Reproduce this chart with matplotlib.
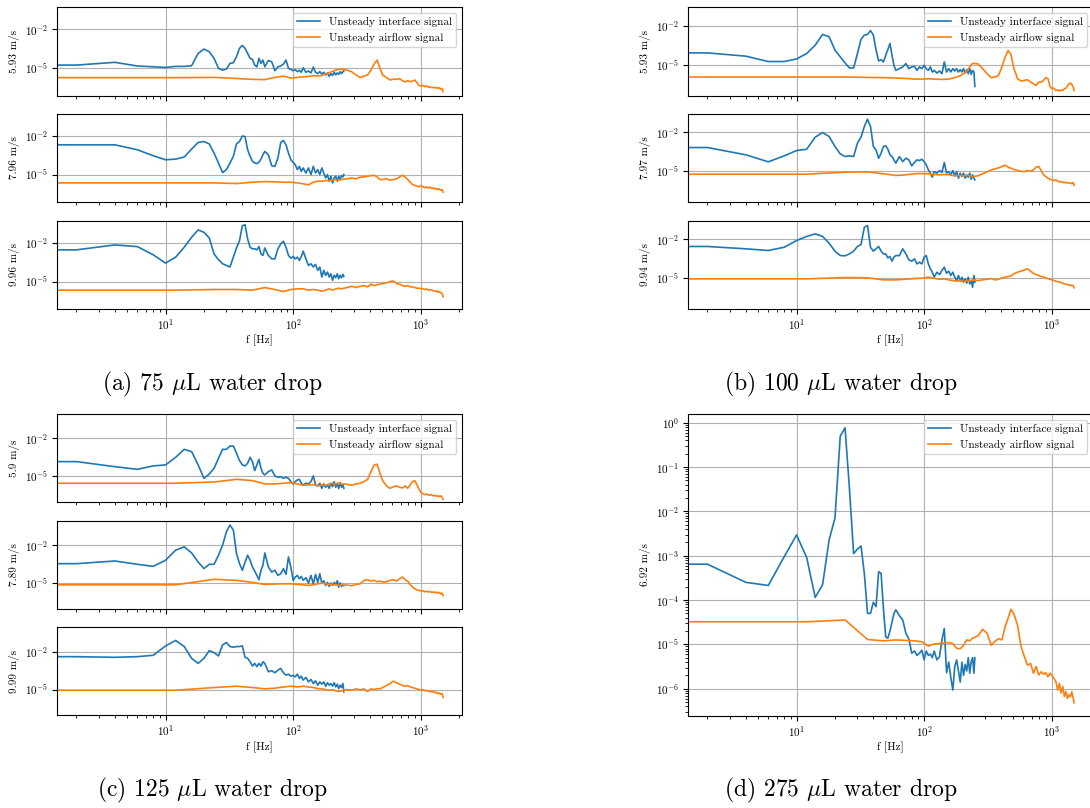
import numpy as np
import matplotlib
matplotlib.use("Agg")
import matplotlib.pyplot as plt
from matplotlib.ticker import NullFormatter

plt.rcParams["font.family"] = "cmr10"
plt.rcParams["mathtext.fontset"] = "cm"
plt.rcParams["axes.formatter.use_mathtext"] = True
plt.rcParams["axes.unicode_minus"] = False

# frequency grids [Hz]
freq_interface = [0, 2, 4, 6, 8, 10, 12, 14, 16, 18, 20, 22, 24, 26, 28, 30, 32, 34, 36, 38, 40,
                  42, 44, 46, 48, 50, 52, 54, 56, 58, 60,
                  64, 68, 72, 76, 80, 84, 88, 92, 96, 100, 104, 108, 112, 116, 120,
                  126, 132, 138, 144, 150, 156, 162, 168, 174, 180, 186, 192, 198, 204, 210,
                  216, 222, 228, 234, 240, 246, 250]
freq_airflow = [0, 12, 24, 36, 48, 60, 72, 84, 96, 108, 120, 132, 144, 156, 168, 180, 192, 204, 216, 228, 240,
                264, 288, 312, 336, 360, 384, 408, 432, 456, 480,
                504, 540, 576, 612, 648, 684, 720, 756, 792, 828, 864, 900, 936, 972, 1008, 1044,
                1080, 1116, 1152, 1188, 1224, 1260, 1296, 1332, 1368, 1404, 1440, 1476, 1500]

# log10 of the spectra
a1_interface = [-4.75, -4.75, -4.54, -4.82, -4.88, -4.93, -4.85, -4.85, -4.8, -3.86, -3.53, -3.73, -4.24, -5.0, -5.13, -5.05,
                -4.62, -4.57, -4.11, -3.47, -3.25, -3.47, -3.86, -4.24, -4.32, -4.75, -4.88, -4.24, -4.62, -4.37, -4.88,
                -4.4, -4.5, -5.18, -4.88, -4.82, -4.67, -4.37, -5.0, -5.08, -5.18, -5.1, -5.25, -5.15, -5.3, -4.95,
                -5.3, -5.2, -5.35, -4.9, -5.3, -5.4, -5.25, -5.45, -5.3, -5.5, -5.35, -5.6, -5.4, -5.55, -5.3,
                -5.5, -5.35, -5.45, -5.25, -5.4, -5.25, -5.2]
a1_airflow = [-5.71, -5.71, -5.69, -5.77, -5.84, -5.86, -5.69, -5.59, -5.74, -5.69, -5.64, -5.62, -5.56, -5.59, -5.54, -5.43,
              -5.33, -5.23, -5.13, -5.08, -5.05,
              -5.13, -5.26, -5.51, -5.71, -5.59, -5.51, -5.13, -4.67, -4.37, -5.0,
              -5.51, -5.71, -5.89, -5.82, -5.84, -5.79, -5.94, -6.04, -5.94, -6.02, -5.97, -5.89, -6.1, -6.3, -6.35,
              -6.3, -6.4, -6.35, -6.45, -6.4, -6.48, -6.45, -6.5, -6.45, -6.53, -6.48, -6.6, -6.55, -6.78]

a2_interface = [-2.71, -2.71, -2.71, -3.09, -3.55, -3.86, -3.81, -3.65, -3.04, -2.53, -2.46, -2.64, -3.35, -4.11, -4.85, -4.62,
                -4.11, -3.6, -2.64, -2.46, -2.03, -2.08, -3.09, -3.6, -3.98, -4.11, -4.16, -4.04, -3.81, -3.48, -3.22,
                -3.48, -4.32, -4.37, -3.73, -2.53, -2.38, -2.71, -3.35, -3.86, -4.06, -4.24, -4.62, -4.37, -4.75, -4.49,
                -4.88, -4.49, -5.0, -4.37, -4.88, -4.62, -5.0, -4.49, -4.88, -5.26, -5.0, -5.51, -5.13, -5.64, -5.26,
                -5.13, -5.51, -5.13, -5.38, -5.08, -5.18, -5.0]
a2_airflow = [-5.64, -5.64, -5.64, -5.69, -5.59, -5.54, -5.56, -5.59, -5.59, -5.64, -5.71, -5.79, -5.59, -5.51, -5.51, -5.46,
              -5.49, -5.41, -5.38, -5.43, -5.38,
              -5.33, -5.26, -5.33, -5.2, -5.18, -5.13, -5.08, -5.05, -5.18, -5.38,
              -5.38, -5.33, -5.43, -5.38, -5.33, -5.18, -5.05, -5.18, -5.38, -5.59, -5.77, -5.84, -5.89, -5.94, -5.84,
              -5.94, -6.02, -5.94, -6.04, -5.97, -6.07, -6.02, -6.12, -6.07, -6.15, -6.1, -6.2, -6.15, -6.35]

a3_interface = [-2.56, -2.56, -2.18, -2.31, -2.94, -3.58, -3.12, -2.36, -1.59, -1.03, -1.21, -1.64, -2.87, -3.32, -3.63, -3.76,
                -3.88, -3.12, -2.41, -1.85, -0.7, -0.63, -1.72, -2.36, -2.48, -2.48, -2.56, -2.31, -2.87, -2.99, -2.41,
                -2.99, -3.25, -3.25, -2.48, -2.1, -1.9, -2.36, -2.99, -3.2, -3.07, -3.25, -3.12, -3.37, -3.07, -2.66,
                -3.25, -3.76, -3.63, -3.88, -3.68, -4.14, -3.88, -4.65, -4.14, -4.52, -4.27, -4.65, -4.4, -4.9, -4.52,
                -4.7, -4.4, -4.78, -4.52, -4.7, -4.45, -4.6]
a3_airflow = [-5.66, -5.66, -5.61, -5.61, -5.66, -5.46, -5.61, -5.77, -5.61, -5.56, -5.56, -5.66, -5.61, -5.66, -5.74, -5.66,
              -5.56, -5.66, -5.56, -5.51, -5.56,
              -5.46, -5.36, -5.46, -5.36, -5.31, -5.41, -5.2, -5.31, -5.25, -5.2,
              -5.15, -5.1, -5.0, -4.95, -5.15, -5.2, -5.31, -5.36, -5.31, -5.41, -5.41, -5.46, -5.51, -5.51, -5.53,
              -5.56, -5.61, -5.56, -5.66, -5.61, -5.66, -5.71, -5.77, -5.71, -5.82, -5.77, -5.87, -5.92, -6.17]

b1_interface = [-4.08, -4.08, -4.33, -4.74, -4.74, -4.54, -4.13, -3.49, -2.67, -2.85, -3.87, -4.38, -4.85, -5.23, -5.23, -4.13,
                -3.05, -2.72, -2.67, -2.38, -2.72, -3.87, -4.69, -4.59, -4.77, -4.26, -3.82, -3.36, -4.26, -5.03, -5.41,
                -5.28, -5.15, -4.9, -5.28, -5.15, -5.1, -5.41, -5.15, -5.28, -5.03, -5.28, -5.41, -5.15, -5.54, -5.41,
                -5.62, -5.46, -5.67, -4.77, -5.54, -5.28, -5.54, -5.28, -5.46, -5.28, -5.54, -5.36, -5.54, -5.28, -5.62,
                -5.36, -5.67, -5.28, -5.72, -5.41, -5.54, -6.64]
b1_airflow = [-5.92, -5.92, -5.92, -5.95, -5.97, -6.0, -6.03, -6.08, -6.08, -6.05, -6.08, -6.1, -6.1, -6.08, -6.0, -5.92,
              -5.82, -5.67, -5.46, -5.15, -4.88,
              -4.92, -5.28, -5.67, -5.97, -5.92, -5.79, -5.15, -4.4, -3.9, -4.2,
              -5.2, -6.05, -6.23, -6.18, -6.13, -6.31, -6.44, -6.56, -6.31, -6.31, -6.18, -5.97, -6.05, -6.64, -6.82,
              -6.77, -6.95, -6.9, -7.0, -6.9, -6.95, -6.82, -6.77, -6.59, -6.44, -6.38, -6.49, -6.69, -6.95]

b2_interface = [-3.18, -3.18, -3.74, -4.28, -3.82, -3.41, -3.31, -2.38, -2.03, -2.33, -3.1, -3.67, -3.87, -3.82, -3.87, -2.85,
                -2.38, -1.56, -1.0, -1.56, -3.1, -3.36, -4.0, -3.62, -3.1, -3.05, -3.31, -3.74, -3.87, -4.13, -4.38,
                -3.87, -4.26, -4.0, -4.13, -4.59, -4.33, -4.13, -4.18, -4.08, -4.26, -4.51, -4.9, -5.15, -5.46, -5.03,
                -5.15, -4.95, -5.1, -4.33, -5.15, -5.03, -5.28, -4.95, -5.36, -5.03, -5.54, -5.15, -5.41, -5.15, -5.54,
                -5.28, -5.46, -5.15, -5.62, -5.28, -5.54, -5.67]
b2_airflow = [-5.23, -5.23, -5.08, -5.05, -5.2, -5.33, -5.28, -5.2, -5.18, -5.2, -5.26, -5.28, -5.26, -5.28, -5.33, -5.36,
              -5.31, -5.36, -5.31, -5.36, -5.41,
              -5.36, -5.2, -5.05, -4.9, -4.82, -4.74, -4.64, -4.54, -4.69, -4.77,
              -4.85, -4.95, -5.0, -5.03, -4.95, -5.0, -4.9, -4.69, -4.64, -4.95, -5.28, -5.41, -5.54, -5.62, -5.67,
              -5.72, -5.67, -5.77, -5.82, -5.79, -5.87, -5.85, -5.9, -5.87, -5.92, -5.9, -5.97, -5.87, -6.08]

b3_interface = [-2.56, -2.56, -2.74, -2.87, -2.62, -2.1, -1.79, -1.59, -1.79, -2.31, -2.92, -3.26, -3.28, -3.13, -2.92, -2.56,
                -2.41, -1.08, -0.95, -2.62, -2.92, -2.74, -2.56, -2.92, -3.13, -3.13, -3.44, -3.33, -3.69, -3.38, -3.26,
                -3.26, -2.74, -3.13, -3.59, -3.69, -3.51, -3.9, -3.77, -3.9, -3.38, -3.26, -3.9, -4.28, -4.54, -4.92,
                -4.54, -4.72, -4.41, -4.15, -4.62, -4.46, -4.79, -4.54, -4.92, -5.18, -4.79, -5.23, -4.92, -5.31, -5.05,
                -5.38, -4.92, -5.44, -5.18, -5.69, -4.79, -5.31]
b3_airflow = [-5.05, -5.05, -4.95, -4.97, -5.13, -5.13, -5.08, -5.03, -5.0, -4.92, -5.0, -5.08, -5.05, -5.13, -5.18, -5.23,
              -5.18, -5.26, -5.18, -5.23, -5.13,
              -5.18, -5.13, -5.08, -5.03, -5.13, -5.08, -4.97, -4.92, -4.87, -4.82,
              -4.67, -4.54, -4.46, -4.36, -4.28, -4.46, -4.62, -4.72, -4.79, -4.87, -4.92, -4.97, -5.03, -5.08, -5.13,
              -5.18, -5.23, -5.26, -5.31, -5.33, -5.38, -5.44, -5.46, -5.49, -5.54, -5.51, -5.59, -5.56, -5.74]

c1_interface = [-3.84, -3.84, -4.24, -4.45, -4.18, -4.1, -3.5, -2.87, -3.05, -4.1, -5.16, -4.82, -4.37, -3.58, -2.87, -2.87,
                -2.61, -2.61, -3.18, -3.76, -4.1, -4.18, -3.97, -3.5, -3.84, -4.55, -4.1, -3.66, -4.37, -4.76, -4.89,
                -4.63, -4.5, -4.97, -5.08, -5.03, -5.16, -5.08, -5.16, -5.42, -5.6, -5.42, -5.29, -5.24, -5.55, -5.68,
                -5.55, -5.6, -5.42, -4.97, -5.68, -5.76, -5.55, -5.95, -5.6, -5.87, -5.68, -5.95, -5.55, -5.82, -5.42,
                -5.87, -5.55, -5.97, -5.5, -5.87, -5.68, -5.95]
c1_airflow = [-5.55, -5.55, -5.45, -5.24, -5.34, -5.6, -5.6, -5.55, -5.5, -5.6, -5.71, -5.68, -5.66, -5.76, -5.68, -5.71,
              -5.6, -5.55, -5.6, -5.55, -5.6,
              -5.63, -5.71, -5.6, -5.55, -5.42, -5.24, -4.63, -4.1, -4.05, -4.76,
              -5.34, -5.76, -5.95, -5.82, -5.76, -5.87, -5.92, -5.76, -5.95, -5.68, -5.42, -5.34, -5.68, -6.03, -6.29,
              -6.39, -6.45, -6.39, -6.5, -6.45, -6.47, -6.55, -6.5, -6.58, -6.53, -6.6, -6.55, -6.66, -6.82]

c2_interface = [-3.45, -3.45, -3.24, -3.5, -3.66, -3.18, -2.39, -2.13, -2.61, -3.32, -3.84, -3.5, -3.5, -2.79, -2.0, -0.95,
                -0.42, -0.82, -2.66, -3.45, -3.97, -3.32, -2.79, -3.18, -3.71, -4.03, -4.37, -4.71, -3.97, -3.58, -2.61,
                -3.71, -4.11, -3.97, -4.37, -4.24, -3.84, -4.29, -2.92, -3.71, -4.76, -4.5, -4.37, -4.63, -4.45, -4.76,
                -4.55, -4.97, -4.37, -5.03, -4.29, -4.92, -4.24, -5.0, -4.79, -5.16, -4.92, -5.24, -4.97, -5.16, -4.92,
                -5.1, -4.79, -5.29, -4.97, -5.24, -5.08, -5.18]
c2_airflow = [-5.11, -5.11, -4.68, -4.76, -4.92, -5.08, -5.05, -5.03, -5.03, -5.08, -5.11, -5.16, -5.11, -5.03, -4.97, -5.03,
              -5.11, -5.05, -5.11, -5.16, -5.11,
              -5.13, -5.18, -5.08, -5.03, -4.76, -4.71, -4.82, -4.76, -4.87, -4.82,
              -4.89, -4.87, -4.76, -4.71, -4.82, -4.63, -4.5, -4.71, -4.82, -5.08, -5.29, -5.42, -5.5, -5.55, -5.6,
              -5.58, -5.66, -5.6, -5.68, -5.63, -5.71, -5.66, -5.74, -5.68, -5.76, -5.71, -5.82, -5.76, -5.95]

c3_interface = [-2.4, -2.4, -2.45, -2.4, -2.29, -1.55, -1.12, -1.6, -2.53, -2.93, -2.53, -1.92, -2.08, -2.34, -1.47, -1.28,
                -1.6, -1.66, -1.6, -1.6, -1.55, -2.45, -2.53, -2.8, -3.14, -2.93, -3.19, -2.93, -3.14, -2.8, -2.93,
                -3.59, -3.51, -3.67, -3.46, -3.33, -3.67, -3.86, -3.78, -3.94, -3.88, -3.99, -3.78, -4.12, -3.94, -4.25,
                -4.04, -4.39, -4.2, -4.52, -4.31, -4.65, -4.39, -4.57, -4.39, -4.73, -4.46, -4.65, -4.52, -4.73, -4.46,
                -4.79, -4.57, -4.92, -4.65, -4.84, -4.52, -5.18]
c3_airflow = [-5.05, -5.05, -4.84, -4.73, -4.84, -4.94, -4.89, -4.79, -4.73, -4.79, -4.73, -4.79, -4.84, -4.92, -4.94, -5.0,
              -5.05, -5.0, -5.1, -5.15, -5.1,
              -5.0, -5.05, -4.94, -5.02, -4.94, -5.15, -4.94, -5.0, -4.92, -4.94,
              -4.84, -4.68, -4.52, -4.33, -4.47, -4.57, -4.68, -4.73, -4.68, -4.79, -4.84, -4.89, -4.94, -5.0, -5.05,
              -5.0, -5.1, -5.05, -5.15, -5.1, -5.2, -5.15, -5.26, -5.2, -5.31, -5.26, -5.36, -5.31, -5.63]

d_interface = [-3.19, -3.19, -3.6, -3.67, -3.02, -2.53, -3.04, -3.94, -3.65, -2.64, -2.15, -0.3, -0.11, -1.5, -2.95, -2.85,
               -2.78, -3.4, -4.3, -4.3, -4.05, -4.15, -3.36, -3.4, -4.2, -4.83, -4.86, -4.7, -4.5, -4.3, -4.22,
               -4.35, -4.45, -4.75, -4.88, -5.2, -5.15, -5.25, -5.2, -5.13, -5.35, -5.15, -5.25, -5.22, -5.3, -5.15,
               -5.35, -5.28, -4.9, -4.64, -5.64, -5.4, -5.75, -6.03, -5.5, -5.35, -5.6, -5.85, -5.4, -5.7, -5.45,
               -5.6, -5.3, -5.65, -5.4, -5.3, -5.65, -5.3]
d_airflow = [-4.49, -4.49, -4.45, -4.89, -4.92, -4.9, -4.91, -4.92, -4.94, -5.04, -4.99, -4.98, -4.97, -4.96, -4.98, -5.09,
             -5.1, -5.02, -4.9, -4.92, -4.86,
             -4.81, -4.66, -4.75, -5.02, -4.93, -4.87, -4.9, -4.6, -4.41, -4.21,
             -4.3, -4.56, -5.05, -5.28, -5.47, -5.43, -5.65, -5.5, -5.69, -5.62, -5.67, -5.64, -5.73, -5.65, -5.71,
             -5.77, -5.84, -6.03, -5.88, -6.1, -5.95, -6.18, -6.07, -6.22, -6.14, -6.18, -6.07, -6.22, -6.32]

speed_labels_a = ["5.93 m/s", "7.96 m/s", "9.96 m/s"]
speed_labels_b = ["5.93 m/s", "7.97 m/s", "9.94 m/s"]
speed_labels_c = ["5.9 m/s", "7.89 m/s", "9.99 m/s"]
speed_label_d = "6.92 m/s"
captions = ["(a) 75 $\\mu$L water drop", "(b) 100 $\\mu$L water drop",
            "(c) 125 $\\mu$L water drop", "(d) 275 $\\mu$L water drop"]

W, H = 1090, 808
fig = plt.figure(figsize=(W / 100, H / 100), dpi=100)


def add_px_axes(left, top, width, bottom):
    return fig.add_axes([left / W, 1 - bottom / H, width / W, (bottom - top) / H])


def draw(ax, blue, orange, ylabel, ylim, show_x, show_legend):
    ax.plot(freq_interface, 10 ** np.array(blue), color="tab:blue", lw=1.2,
            label="Unsteady interface signal")
    ax.plot(freq_airflow, 10 ** np.array(orange), color="tab:orange", lw=1.2,
            label="Unsteady airflow signal")
    ax.set_xscale("log")
    ax.set_yscale("log")
    ax.set_xlim(1.4, 2100)
    ax.set_ylim(10 ** ylim[0], 10 ** ylim[1])
    ax.yaxis.set_minor_formatter(NullFormatter())
    ax.grid(True, which="major")
    ax.set_ylabel(ylabel, fontsize=8)
    ax.tick_params(labelsize=8, pad=2.5)
    if show_x:
        ax.set_xlabel("f [Hz]", fontsize=8, labelpad=2)
    else:
        ax.tick_params(labelbottom=False)
    if show_legend:
        ax.legend(loc="upper right", fontsize=8)


top_rows = [(7.3, 96), (114, 202), (221, 309)]
bottom_rows = [(414, 502), (520.7, 609.3), (627.3, 715.3)]
left_x, right_x, ax_w = 56.7, 687.7, 405

stacks = [
    (left_x, top_rows, [a1_interface, a2_interface, a3_interface],
     [a1_airflow, a2_airflow, a3_airflow], speed_labels_a, (-7.11, -0.34)),
    (right_x, top_rows, [b1_interface, b2_interface, b3_interface],
     [b1_airflow, b2_airflow, b3_airflow], speed_labels_b, (-7.37, -0.6)),
    (left_x, bottom_rows, [c1_interface, c2_interface, c3_interface],
     [c1_airflow, c2_airflow, c3_airflow], speed_labels_c, (-7.03, -0.08)),
]

for x0, rows, blues, oranges, labels, ylim in stacks:
    for i, (top, bottom) in enumerate(rows):
        ax = add_px_axes(x0, top, ax_w, bottom)
        draw(ax, blues[i], oranges[i], labels[i], ylim, i == 2, i == 0)

ax_d = add_px_axes(right_x, 414, ax_w, 715.7)
draw(ax_d, d_interface, d_airflow, speed_label_d, (-6.61, 0.2), True, True)

fig.text(212 / W, 1 - 384 / H, captions[0], ha="center", va="center", fontsize=17)
fig.text(841 / W, 1 - 384 / H, captions[1], ha="center", va="center", fontsize=17)
fig.text(212 / W, 1 - 790 / H, captions[2], ha="center", va="center", fontsize=17)
fig.text(841 / W, 1 - 790 / H, captions[3], ha="center", va="center", fontsize=17)

fig.savefig("out.png", dpi=100)
